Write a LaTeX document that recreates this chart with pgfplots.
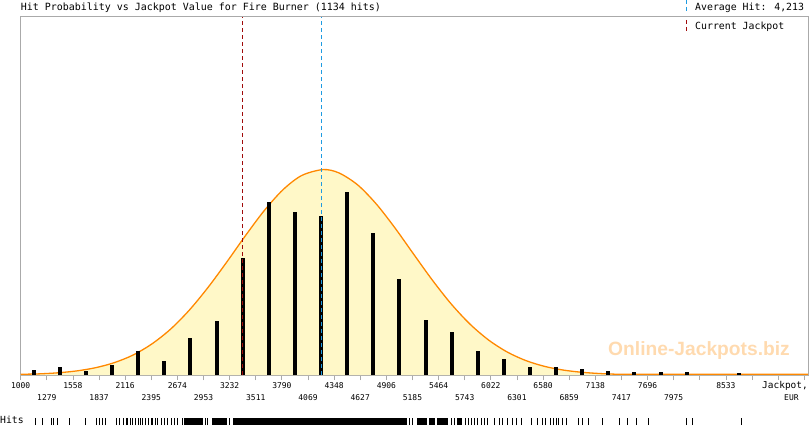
\documentclass[border=0pt]{standalone}
\usepackage{pgfplots}
\pgfplotsset{compat=1.18}
\usepackage{fontspec}
\setmainfont{DejaVu Sans Mono}
\newfontfamily\wmfont{Liberation Sans}
\definecolor{curveor}{RGB}{255,136,0}
\definecolor{fillyel}{RGB}{255,248,200}
\definecolor{jackred}{RGB}{160,10,10}
\definecolor{avgblue}{RGB}{30,155,225}
\definecolor{axgray}{RGB}{170,170,170}
\definecolor{wmcol}{RGB}{255,218,175}
\begin{document}
\begin{tikzpicture}[x=1bp,y=1bp]
\useasboundingbox (0,0) rectangle (810,425);
\begin{axis}[
  at={(20.7bp,50bp)}, anchor=south west,
  scale only axis, width=787.3bp, height=358bp,
  xmin=1000, xmax=9410, ymin=0, ymax=298,
  axis line style={axgray, line width=1bp},
  ytick=\empty,
  xtick pos=bottom, tick align=outside,
  major tick length=5bp,
  tick style={axgray, line width=0.8bp},
  xtick={1000,1279,1558,1837,2116,2395,2674,2953,3232,3511,3790,4069,4348,4627,4906,5185,5464,5743,6022,6301,6580,6859,7138,7417,7696,7975,8254,8533,8812,9091,9370},
  xticklabels={1000,,1558,,2116,,2674,,3232,,3790,,4348,,4906,,5464,,6022,,6580,,7138,,7696,,,8533,,,},
  xticklabel style={font=\fontsize{8}{8}\selectfont, anchor=base, yshift=-8.5bp},
  extra x ticks={1279,1837,2395,2953,3511,4069,4627,5185,5743,6301,6859,7417,7975},
  extra x tick labels={1279,1837,2395,2953,3511,4069,4627,5185,5743,6301,6859,7417,7975},
  extra x tick style={xticklabel style={yshift=-12bp}},
  clip=true,
]
% area under the fitted curve
\addplot[draw=none, fill=fillyel, smooth] coordinates {
(1000,0.6)(1200,0.95)(1400,1.84)(1600,3.42)(1800,6.07)(2000,10.3)(2200,16.6)(2400,25.8)(2600,38.1)(2800,53.9)(3000,72.8)(3200,93.9)(3400,115.9)(3600,136.7)(3800,154.1)(4000,166.0)(4229,171)(4400,168.2)(4600,158.2)(4800,142.2)(5000,122.2)(5200,100.3)(5400,78.7)(5600,59.0)(5800,42.3)(6000,29.0)(6200,19.0)(6400,11.9)(6600,7.1)(6800,4.06)(7000,2.22)(7200,1.16)(7400,0.6)(7700,0.6)(8500,0.6)(9410,0.6)
} \closedcycle;
% curve
\addplot[draw=curveor, line width=1.3bp, smooth] coordinates {
(1000,0.6)(1200,0.95)(1400,1.84)(1600,3.42)(1800,6.07)(2000,10.3)(2200,16.6)(2400,25.8)(2600,38.1)(2800,53.9)(3000,72.8)(3200,93.9)(3400,115.9)(3600,136.7)(3800,154.1)(4000,166.0)(4229,171)(4400,168.2)(4600,158.2)(4800,142.2)(5000,122.2)(5200,100.3)(5400,78.7)(5600,59.0)(5800,42.3)(6000,29.0)(6200,19.0)(6400,11.9)(6600,7.1)(6800,4.06)(7000,2.22)(7200,1.16)(7400,0.6)(7700,0.6)(8500,0.6)(9410,0.6)
};
% hit histogram
\addplot[ycomb, draw=black, line width=4bp, mark=none] coordinates {
(1139.5,4)(1418.5,7)(1697.5,3.6)(1976.5,8)(2255.5,20)(2534.5,12)(2813.5,31)(3092.5,45)(3371.5,97)(3650.5,144)(3929.5,136)(4208.5,132)(4487.5,152)(4766.5,118)(5045.5,80)(5324.5,46)(5603.5,36)(5882.5,20)(6161.5,13)(6440.5,7)(6719.5,7)(6998.5,5)(7277.5,3)(7556.5,2.5)(7835.5,2.5)(8114.5,2.5)(8672.5,1.7)
};
% current jackpot and average hit
\addplot[color=jackred, line width=1bp, dash pattern=on 4bp off 3bp] coordinates {(3371,0)(3371,298)};
\addplot[color=avgblue, line width=1.1bp, dash pattern=on 4bp off 3bp] coordinates {(4213,0)(4213,298)};
\end{axis}
% rug of individual hits
\begin{axis}[
  at={(20.7bp,0bp)}, anchor=south west,
  scale only axis, width=787.3bp, height=7bp,
  xmin=1000, xmax=9410, ymin=0, ymax=1,
  hide axis, clip=false,
]
\addplot[ycomb, draw=black, line width=1bp, mark=none] coordinates {
(1163,1)(1238,1)(1334,1)(1355,1)(1388,1)(1526,1)(1687,1)(1815,1)(1847,1)(1879,1)(1911,1)(2028,1)(2060,1)(2093,1)(2125,1)(2146,1)(2178,1)(2199,1)(2231,1)(2253,1)(2285,1)(2306,1)(2338,1)(2360,1)(2392,1)(2413,1)(2445,1)(2466,1)(2509,1)(2541,1)(2573,1)(2616,1)(2648,1)(2680,1)(2723,1)(2979,1)(3000,1)(3235,1)(5158,1)(5190,1)(5564,1)(5607,1)(5639,1)(5746,1)(5778,1)(5820,1)(5852,1)(5884,1)(5927,1)(5959,1)(5991,1)(6066,1)(6119,1)(6151,1)(6205,1)(6248,1)(6301,1)(6354,1)(6461,1)(6525,1)(6579,1)(6611,1)(6654,1)(6686,1)(6728,1)(6750,1)(6792,1)(6835,1)(6953,1)(7006,1)(7070,1)(7220,1)(7401,1)(7487,1)(7583,1)(7711,1)(8117,1)(8181,1)(8704,1)
};
\addplot[fill=black, draw=none] coordinates {(2744,1)(2947,1)} \closedcycle;
\addplot[fill=black, draw=none] coordinates {(3043,1)(3203,1)} \closedcycle;
\addplot[fill=black, draw=none] coordinates {(3267,1)(5126,1)} \closedcycle;
\addplot[fill=black, draw=none] coordinates {(5233,1)(5340,1)} \closedcycle;
\addplot[fill=black, draw=none] coordinates {(5361,1)(5425,1)} \closedcycle;
\addplot[fill=black, draw=none] coordinates {(5446,1)(5553,1)} \closedcycle;
\addplot[fill=black, draw=none] coordinates {(5660,1)(5714,1)} \closedcycle;
\end{axis}
% texts
\node[anchor=base west, inner sep=0pt, font=\fontsize{10}{10}\selectfont] at (20.7,414.5) {Hit Probability vs Jackpot Value for Fire Burner (1134 hits)};
\node[anchor=base west, inner sep=0pt, font=\fontsize{9.9}{10}\selectfont] at (695,414.5) {Average Hit: 4,213};
\node[anchor=base west, inner sep=0pt, font=\fontsize{9.9}{10}\selectfont] at (695,395.5) {Current Jackpot};
\draw[avgblue, line width=1bp, dash pattern=on 4bp off 3bp] (686,425) -- (686,413);
\draw[jackred, line width=1bp, dash pattern=on 4bp off 3bp] (686,405) -- (686,392);
\node[anchor=base west, inner sep=0pt, font=\fontsize{9.5}{10}\selectfont] at (762,36.5) {Jackpot,};
\node[anchor=base west, inner sep=0pt, font=\fontsize{8}{8}\selectfont] at (784,24.5) {EUR};
\node[anchor=base west, inner sep=0pt, font=\fontsize{9.8}{10}\selectfont] at (0,1.2) {Hits};
\node[anchor=base west, inner sep=0pt, text=wmcol, font=\wmfont\bfseries\fontsize{19.3}{20}\selectfont] at (608,70) {Online-Jackpots.biz};
\end{tikzpicture}
\end{document}
